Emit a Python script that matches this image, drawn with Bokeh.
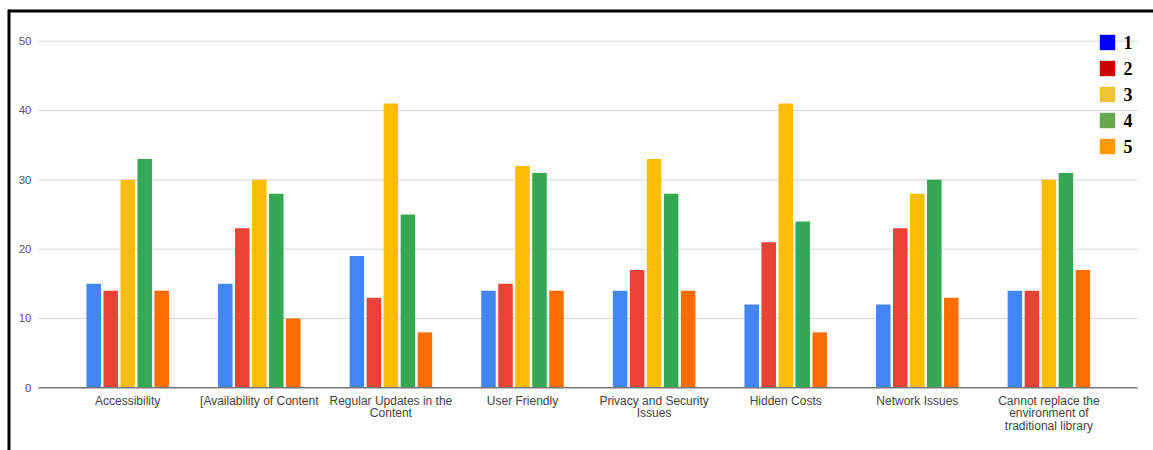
from bokeh.plotting import figure
from bokeh.models import Range1d
from bokeh.core.properties import value
from bokeh.embed import file_html
from bokeh.resources import INLINE

# ---------------- data ----------------
categories = [
    "Accessibility",
    "[Availability of Content",
    "Regular Updates in the\nContent",
    "User Friendly",
    "Privacy and Security\nIssues",
    "Hidden Costs",
    "Network Issues",
    "Cannot replace the\nenvironment of\ntraditional library",
]
series_names = ["1", "2", "3", "4", "5"]
s1 = [15, 15, 19, 14, 14, 12, 12, 14]
s2 = [14, 23, 13, 15, 17, 21, 23, 14]
s3 = [30, 30, 41, 32, 33, 41, 28, 30]
s4 = [33, 28, 25, 31, 28, 24, 30, 31]
s5 = [14, 10, 8, 14, 14, 8, 13, 17]
y_ticks = [0, 10, 20, 30, 40, 50]

bar_colors = ["#4285f4", "#ea4335", "#fbbc04", "#34a853", "#ff6d01"]
legend_colors = ["#0000ff", "#cc0000", "#f1c232", "#6aa84f", "#ff9900"]

# ---------------- layout ----------------
W, H = 1153, 450
X0, DX = 127.2, 131.6      # pixel of first category centre, pixels per category
Y0, DY = 387.3, 6.933      # pixel of value 0, pixels per unit


def px2x(px):
    return (px - X0) / DX


def px2y(py):
    return (Y0 - py) / DY


p = figure(
    width=W, height=H,
    x_range=Range1d(px2x(0), px2x(W)),
    y_range=Range1d(px2y(H), px2y(0)),
    toolbar_location=None, output_backend="svg",
    min_border=0, min_border_left=0, min_border_right=0,
    min_border_top=0, min_border_bottom=0,
)
p.axis.visible = False
p.grid.visible = False
p.outline_line_color = None
p.background_fill_color = "white"
p.border_fill_color = "white"

# gridlines
grid_left, grid_right = px2x(38), px2x(1137)
p.segment(x0=[grid_left] * (len(y_ticks) - 1), x1=[grid_right] * (len(y_ticks) - 1),
          y0=y_ticks[1:], y1=y_ticks[1:], line_color="#d6d6d6", line_width=1)

# y tick labels
p.text(x=[px2x(31)] * len(y_ticks), y=y_ticks, text=[str(t) for t in y_ticks],
       text_align="right", text_baseline="middle",
       text_font=value("Liberation Sans"), text_font_size="11.5px", text_color="#555555")

# bars
series = [s1, s2, s3, s4, s5]
pitch, bw = 17.0 / DX, 14.5 / DX
for j, vals in enumerate(series):
    xs = [i + (j - 2) * pitch for i in range(len(categories))]
    p.vbar(x=xs, top=vals, bottom=0, width=bw, fill_color=bar_colors[j], line_color=None)

# baseline
p.segment(x0=[grid_left], x1=[grid_right], y0=[0], y1=[0], line_color="#777777", line_width=1.5)

# category labels
p.text(x=list(range(len(categories))), y=[px2y(393)] * len(categories), text=categories,
       text_align="center", text_baseline="top", text_line_height=0.92,
       text_font=value("Liberation Sans"), text_font_size="12px", text_color="#444444")

# outer frame (top and left edges)
p.segment(x0=[px2x(8)], x1=[px2x(W + 5)], y0=[px2y(10.5)], y1=[px2y(10.5)],
          line_color="black", line_width=3)
p.segment(x0=[px2x(8.5)], x1=[px2x(8.5)], y0=[px2y(9)], y1=[px2y(H + 5)],
          line_color="black", line_width=3)

# legend (pasted key: coloured squares + bold serif numbers)
leg_y = [px2y(42 + 26 * k) for k in range(len(series_names))]
p.scatter(x=[px2x(1107)] * len(series_names), y=leg_y, marker="square", size=15,
          fill_color=legend_colors, line_color=legend_colors, line_alpha=0.4)
p.text(x=[px2x(1123)] * len(series_names), y=leg_y, text=series_names,
       text_align="left", text_baseline="middle",
       text_font=value("Liberation Serif"), text_font_style="bold",
       text_font_size="18px", text_color="black")

open("out.html", "w").write(file_html(p, INLINE))
